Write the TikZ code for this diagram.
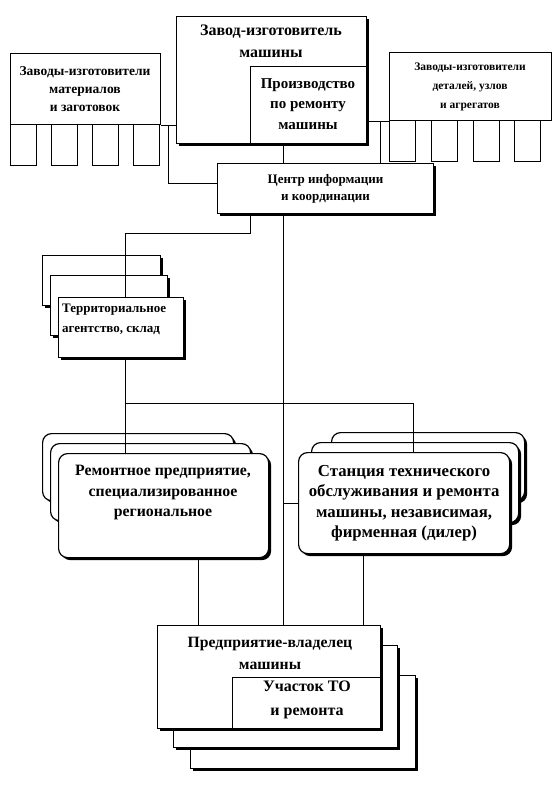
\documentclass[tikz,border=0pt]{standalone}
\usepackage{fontspec}
\setmainfont{Liberation Serif}
\usetikzlibrary{positioning, shadows, backgrounds}

\begin{document}
\begin{tikzpicture}[
    x=1pt, y=-1pt,
    box/.style={rectangle, draw, line width=1pt, fill=white, anchor=north west, inner sep=0pt},
    rbox/.style={box, rounded corners=9pt, line width=1.2pt},
    sz/.style 2 args={minimum width=#1pt, minimum height=#2pt},
    shade/.style={drop shadow={shadow xshift=2.5pt, shadow yshift=-2.5pt, fill=black, opacity=1}},
    tab/.style={box, line width=1.3pt, minimum width=26pt, minimum height=41pt},
    lbl/.style 2 args={align=center, font=\bfseries\fontsize{#1}{#2}\selectfont},
    link/.style={line width=0.7pt}
]
    \useasboundingbox (0,0) rectangle (552,801);

    % Top row
    \foreach \tx [count=\i] in {10,51,92,133}
        \node[tab] (mtab\i) at (\tx,124) {};
    \node[box, sz={150}{71}, line width=1.3pt] (matl) at (10,53) {};
    \node[lbl={13.5}{18}] (matllbl) at (85,89) {Заводы-изготовители\\материалов\\и заготовок};

    \foreach \tx [count=\i] in {389,431,473,514}
        \node[tab] (ptab\i) at (\tx,120) {};
    \node[box, sz={162}{68}, line width=1.3pt] (parts) at (389,52) {};
    \node[lbl={11.5}{19}] (partslbl) at (470,87) {Заводы-изготовители\\деталей, узлов\\и агрегатов};

    \node[box, shade, sz={190}{127}] (plant) at (176,16) {};
    \node[lbl={16}{22}] (plantlbl) at (271,41) {Завод-изготовитель\\машины};
    \node[box, sz={116}{77}] (prodrep) at (250,66) {};
    \node[lbl={15}{20.5}] (prodreplbl) at (308,104) {Производство\\по ремонту\\машины};

    \node[box, shade, sz={216}{50}, lbl={13}{17}] (center) at (217,163) {Центр информации\\и координации};

    % Middle row
    \node[box, shade, sz={125}{60}] (terr) at (58,297) {};
    \node[anchor=north west, align=left, inner sep=0pt, font=\bfseries\fontsize{13}{20}\selectfont] (terrlbl) at (62,304) {Территориальное\\агентство, склад};

    \node[rbox, shade, sz={210}{104}] (repair) at (58,453) {};
    \node[lbl={15.8}{20.5}] (repairlbl) at (163,493) {Ремонтное предприятие,\\специализированное\\региональное};

    \node[rbox, shade, sz={211}{101}, lbl={16.8}{20.3}] (station) at (298,452) {Станция технического\\обслуживания и ремонта\\машины, независимая,\\фирменная (дилер)};

    % Bottom row
    \node[box, shade, sz={223}{103}] (owner) at (157,625) {};
    \node[lbl={15.7}{22}] (ownerlbl) at (270,653) {Предприятие-владелец\\машины};
    \node[box, sz={148}{51}] (section) at (232,677) {};
    \node[lbl={16}{24}] (sectionlbl) at (307,700) {Участок ТО\\и ремонта};

    \coordinate (mainx) at (283,0);
    \coordinate (px) at (380,0);
    \coordinate (split) at (250,233);
    \coordinate (terrx) at (125,233);
    \coordinate (forkl) at (125,403);
    \coordinate (stx) at (413,0);
    \coordinate (ownl) at (198,0);
    \coordinate (ownr) at (363,0);

    \begin{scope}[on background layer]
        % Stacked copies
        \node[box, shade, sz={118}{50}] (terrb) at (42,255) {};
        \node[box, shade, sz={117}{60}] (terrm) at (50,275) {};
        \node[rbox, shade, sz={191}{67}] (repairb) at (42,433) {};
        \node[rbox, shade, sz={200}{77}] (repairm) at (50,443) {};
        \node[rbox, shade, sz={193}{68}] (stationb) at (331,432) {};
        \node[rbox, shade, sz={207}{80}] (stationm) at (311,442) {};
        \node[box, shade, sz={225}{93}] (ownerb) at (190,675) {};
        \node[box, shade, sz={224}{102}] (ownerm) at (173,645) {};

        % Links
        \draw[link] (matl.south east) -- (matl.south east -| plant.west);
        \draw[link] ([xshift=7pt]matl.south east) |- ([yshift=5pt]center.west);
        \draw[link] (parts.south west) -- (parts.south west -| plant.east);
        \draw[link] (parts.south west -| px) -- (center.north -| px);
        \draw[link] (plant.south -| mainx) -- (center.north -| mainx);
        \draw[link] (center.south -| mainx) -- (owner.north -| mainx);
        \draw[link] (center.south -| split) |- (terrx) -- (terr.north -| terrx);
        \draw[link] (terr.south -| terrx) -- (repair.north -| terrx);
        \draw[link] (forkl) -| (station.north -| stx);
        \draw[link] (station.west -| mainx) -- (station.west);
        \draw[link] (repair.south -| ownl) -- (owner.north -| ownl);
        \draw[link] (station.south -| ownr) -- (owner.north -| ownr);
    \end{scope}
\end{tikzpicture}
\end{document}
